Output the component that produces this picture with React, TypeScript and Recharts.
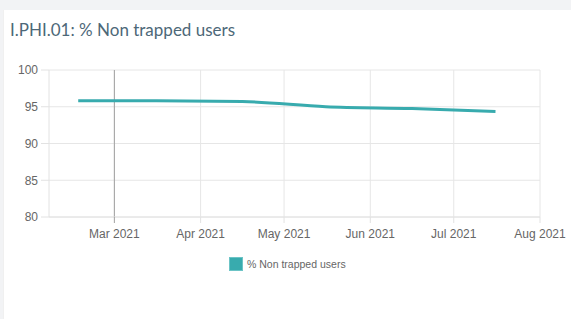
import { CartesianGrid, Line, LineChart, ReferenceLine, XAxis, YAxis } from 'recharts';

const dates = ['2021-02-16', '2021-03-16', '2021-04-16', '2021-05-16', '2021-06-16', '2021-07-16'];
const values = [95.8, 95.8, 95.7, 95.0, 94.75, 94.35];
const monthTicks = ['2021-03-01', '2021-04-01', '2021-05-01', '2021-06-01', '2021-07-01', '2021-08-01'];
const yTicks = [80, 85, 90, 95, 100];
const seriesName = '% Non trapped users';
const title = 'I.PHI.01: % Non trapped users';

const ts = (d: string) => new Date(d + 'T00:00:00Z').getTime();
const data = dates.map((d, i) => ({ t: ts(d), v: values[i] }));
const tickTimes = monthTicks.map(ts);
const markedTick = tickTimes[0];

const MONTHS = ['Jan', 'Feb', 'Mar', 'Apr', 'May', 'Jun', 'Jul', 'Aug', 'Sep', 'Oct', 'Nov', 'Dec'];
const fmt = (t: number) => {
  const d = new Date(t);
  return `${MONTHS[d.getUTCMonth()]} ${d.getUTCFullYear()}`;
};

const COLOR = '#38abae';
const FONT = '"Liberation Sans", Arial, sans-serif';

function MonthTick(props: any) {
  const { x, y, payload } = props;
  const top = y - 12;
  const dark = payload.value === markedTick;
  return (
    <g>
      <line x1={x} x2={x} y1={top} y2={top + 6} stroke={dark ? '#a0a0a0' : '#e2e2e2'} />
      <text x={x} y={y} dy='0.71em' textAnchor='middle' fill='#666' fontSize={12} fontFamily={FONT}>
        {fmt(payload.value)}
      </text>
    </g>
  );
}

export default function App() {
  return (
    <div style={{ position: 'fixed', left: 0, top: 0, width: 571, height: 319, background: '#f2f3f5' }}>
      <div
        style={{
          position: 'absolute',
          left: 3,
          top: 10,
          right: 0,
          bottom: 0,
          background: '#fff',
          borderLeft: '1px solid #f0f0f0'
        }}
      />
      <div
        style={{
          position: 'absolute',
          left: 10,
          top: 19,
          fontFamily: 'Lato, "Open Sans", sans-serif',
          fontSize: 17,
          color: '#4d6878'
        }}
      >
        {title}
      </div>
      <div style={{ position: 'absolute', left: 0, top: 0 }}>
        <LineChart width={571} height={319} data={data} margin={{ top: 70, right: 31, left: 0, bottom: 79 }}>
          <CartesianGrid stroke='#e6e6e6' horizontalValues={yTicks} verticalValues={tickTimes} />
          <XAxis
            dataKey='t'
            type='number'
            domain={[ts('2021-02-06') - 12 * 3600 * 1000, ts('2021-08-01')]}
            ticks={tickTimes}
            interval={0}
            height={23}
            tickSize={6}
            tickMargin={6}
            tickLine={false}
            axisLine={{ stroke: '#e2e2e2' }}
            tick={<MonthTick />}
          />
          <YAxis
            domain={[80, 100]}
            ticks={yTicks}
            interval={0}
            width={49}
            tickSize={8}
            tickMargin={3}
            tickLine={{ stroke: '#e2e2e2' }}
            axisLine={{ stroke: '#e2e2e2' }}
            tick={{ fill: '#666', fontSize: 12, fontFamily: FONT }}
          />
          <ReferenceLine x={markedTick} stroke='#a0a0a0' />
          <Line
            type='monotone'
            dataKey='v'
            name={seriesName}
            stroke={COLOR}
            strokeWidth={3}
            dot={false}
            isAnimationActive={false}
          />
        </LineChart>
      </div>
      <div
        style={{
          position: 'absolute',
          left: 229,
          top: 257,
          display: 'flex',
          alignItems: 'center',
          fontFamily: FONT,
          fontSize: 10.5,
          color: '#666'
        }}
      >
        <span
          style={{
            display: 'inline-block',
            width: 12,
            height: 12,
            background: COLOR,
            border: '1px solid #6cc4c6',
            marginRight: 4
          }}
        />
        {seriesName}
      </div>
    </div>
  );
}
